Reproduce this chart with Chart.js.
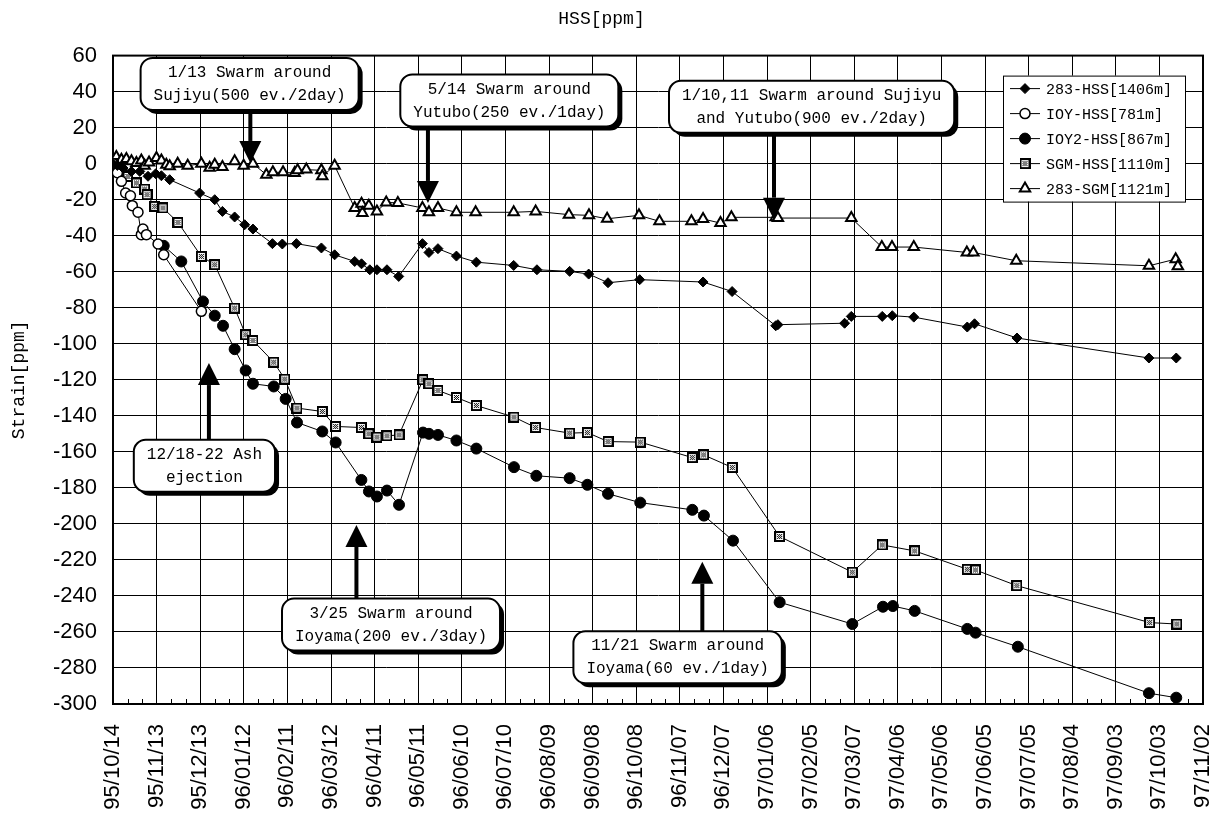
<!DOCTYPE html>
<html>
<head>
<meta charset="utf-8">
<title>HSS[ppm]</title>
<script src="https://cdn.jsdelivr.net/npm/chart.js@4.4.1/dist/chart.umd.min.js"></script>
<style>
	html, body { margin: 0; padding: 0; background: #fff; }
	#wrap { width: 1229px; height: 827px; }
</style>
</head>
<body>
<div id="wrap"><canvas id="strainChart" width="1229" height="827"></canvas></div>
<script>
// x values are days counted from 95/10/14, one date label every 30 days
var tickLabels = ["95/10/14", "95/11/13", "95/12/13", "96/01/12", "96/02/11", "96/03/12",
	"96/04/11", "96/05/11", "96/06/10", "96/07/10", "96/08/09", "96/09/08", "96/10/08",
	"96/11/07", "96/12/07", "97/01/06", "97/02/05", "97/03/07", "97/04/06", "97/05/06",
	"97/06/05", "97/07/05", "97/08/04", "97/09/03", "97/10/03", "97/11/02"];

var seriesNames = ["283-HSS[1406m]", "IOY-HSS[781m]", "IOY2-HSS[867m]", "SGM-HSS[1110m]", "283-SGM[1121m]"];

var hss283Days = [0, 3, 6.9, 12.7, 18.4, 24.1, 29.4, 33.3, 39, 59.6, 70, 75.3, 83.7, 90.6, 96.3,
	109.7, 116.5, 126.2, 143.4, 152.5, 166.3, 171, 176.7, 181.6, 188.5, 196.6, 212.9, 217.4, 223.6,
	236.3, 250, 275.7, 291.7, 314.2, 327.3, 340.6, 362.4, 406, 426, 456, 457.5, 503.4, 508, 529.3,
	536.2, 551, 587.8, 592.8, 622, 712.8, 731.6];
var hss283Vals = [0, -1, -2.4, -4.3, -4.3, -7, -5.6, -6.7, -8.9, -16.3, -20, -26.5, -29.6, -33.9, -36.3,
	-44.4, -44.6, -44.4, -46.8, -50.6, -54.3, -55.6, -58.9, -58.9, -58.9, -62.6, -44.4, -49.3, -47.2,
	-51.3, -54.7, -56.5, -58.9, -59.8, -61.3, -66.1, -64.4, -65.7, -71, -90, -89.4, -88.6, -84.8, -84.8,
	-84.4, -85.2, -90.7, -88.9, -96.8, -107.9, -107.9];

var ioyDays = [0, 3, 5.8, 8.7, 12, 13.3, 17.2, 19.5, 20.6, 23, 31, 34.9, 60.8];
var ioyVals = [0, -5, -9.8, -16.3, -17.8, -23.3, -27, -39.4, -36.3, -39.4, -44.6, -50.6, -82];

var ioy2Days = [34.9, 47, 61.9, 70, 75.7, 83.7, 91.3, 96.3, 110.6, 118.8, 126.6, 144, 153.2, 170.9,
	176.1, 181.6, 188.5, 196.8, 213.3, 217.4, 223.6, 236.3, 250, 275.9, 291.3, 314.2, 326.4, 340.6,
	362.8, 398.6, 406.6, 426.6, 458.7, 508.7, 529.8, 536.6, 551.6, 587.8, 593.5, 622.6, 712.8, 731.6];
var ioy2Vals = [-45.6, -54.3, -76.5, -84.4, -90, -103, -114.8, -122.2, -123.7, -130.6, -143.7, -148.7,
	-154.8, -175.6, -182, -184.8, -181.5, -189.4, -149.3, -150, -150.6, -153.7, -158.2, -168.5, -173.3,
	-174.6, -178.3, -183.3, -188.2, -192.2, -195.4, -209.3, -243.5, -255.6, -246, -245.6, -248.3,
	-258.3, -260.4, -268.2, -294, -296.5];

var sgmDays = [0, 2.5, 6, 10.3, 16.1, 21.8, 23.4, 28.7, 34.4, 44.7, 60.8, 70, 83.7, 91.3, 96.3, 110.6,
	118.2, 126.6, 144, 153.2, 170.9, 176.1, 181.6, 188.5, 196.8, 213.3, 217.4, 223.6, 236.3, 250, 275.9,
	290.8, 314.2, 326.4, 340.6, 362.8, 398.6, 406.4, 426.1, 458.7, 508.7, 529.3, 551.6, 587.8, 593.5,
	621.9, 713.3, 732];
var sgmVals = [0, -3, -4.5, -7.1, -10.7, -14.1, -17.2, -23.7, -24.6, -32.6, -51.5, -56.1, -80.2, -95,
	-98.2, -110.2, -119.6, -135.7, -137.6, -145.9, -146.5, -150, -151.8, -151.1, -150.6, -120, -122.2,
	-125.9, -129.8, -134.3, -140.7, -146.5, -149.6, -149.3, -154.3, -154.6, -163.2, -161.7, -168.7,
	-207, -226.8, -211.7, -215, -225.2, -225.6, -234.3, -254.8, -255.6];

var sgm283Days = [0, 2.3, 5.8, 9.2, 12.7, 16.1, 19.5, 21.8, 24.8, 29.9, 33.3, 36.7, 39, 44.5, 51.4,
	60.8, 66.5, 70, 75.3, 83.7, 89.9, 96.3, 105.5, 110, 117, 125, 127, 133, 143.4, 144, 152.5, 166.3,
	171, 171.6, 176, 181.6, 188, 196, 212.9, 217.4, 223.6, 236.3, 249.5, 275.7, 290.8, 313.7, 327.5,
	340, 361.9, 376, 398, 406, 418, 425.5, 456, 457.5, 508, 529, 536, 551, 587.5, 592, 621.5, 712.8,
	731.2, 732.7];
var sgm283Vals = [0, 3.7, 2.2, 2.6, 1.3, 0.4, 1.8, -1.1, 0.7, 3.1, 1.8, -0.6, -1.5, 0, -1.1, 0, -2.2,
	-0.6, -1.8, 1.3, -1.1, 0, -6.1, -4.8, -4.8, -5.2, -3.7, -3.3, -3.7, -7, -1.1, -24.6, -22.2, -27.4,
	-23.3, -26.5, -21.5, -21.8, -24.6, -27, -24.6, -27, -27, -27, -26.5, -28.3, -28.7, -30.6, -28.7,
	-32, -32, -30.7, -33, -29.8, -29.8, -30.2, -30.2, -46.3, -46.3, -46.3, -49.3, -49.3, -53.9, -56.7,
	-53, -57];

// callouts: box centre (day, value), arrow drawn at arrowDay towards arrowTip
var notes = [
	{ lines: ["1/13 Swarm around", "Sujiyu(500 ev./2day)"], day: 94, value: 44.3, arrowDay: 94.5, arrowTip: 0.4 },
	{ lines: ["5/14 Swarm around", "Yutubo(250 ev./1day)"], day: 272.7, value: 35.1, arrowDay: 216.7, arrowTip: -21.8 },
	{ lines: ["1/10,11 Swarm around Sujiyu", "and Yutubo(900 ev./2day)"], day: 480.7, value: 31.6, arrowDay: 454.8, arrowTip: -31.1 },
	{ lines: ["12/18-22 Ash", "ejection"], day: 62.9, value: -167.7, arrowDay: 66, arrowTip: -110.7 },
	{ lines: ["3/25 Swarm around", "Ioyama(200 ev./3day)"], day: 191.3, value: -255.9, arrowDay: 167.5, arrowTip: -200.6 },
	{ lines: ["11/21 Swarm around", "Ioyama(60 ev./1day)"], day: 388.5, value: -274, arrowDay: 405.5, arrowTip: -221 }
];

function pairs(days, vals) {
	var out = [];
	for (var i = 0; i < days.length; i++) {
		out.push({ x: days[i], y: vals[i] });
	}
	return out;
}

// black square with a grey checker inside, like the scanned SGM marker
function boxMarker() {
	var c = document.createElement("canvas");
	c.width = 11;
	c.height = 11;
	var g = c.getContext("2d");
	g.fillStyle = "#000";
	g.fillRect(0, 0, 11, 11);
	g.fillStyle = "#fff";
	g.fillRect(2, 2, 7, 7);
	g.fillStyle = "#000";
	for (var i = 3; i < 8; i++) {
		for (var j = 3; j < 8; j++) {
			if ((i + j) % 2 === 0) g.fillRect(i, j, 1, 1);
		}
	}
	return c;
}

var monoFont = '"Liberation Mono", "DejaVu Sans Mono", monospace';
var sansFont = '"Liberation Sans", Arial, sans-serif';

function makeSet(label, data, style, radius, fillColor, borderW) {
	return {
		label: label,
		data: data,
		borderColor: "#000",
		borderWidth: 1,
		pointStyle: style,
		pointRadius: radius,
		pointHoverRadius: radius,
		pointBackgroundColor: fillColor,
		pointBorderColor: "#000",
		pointBorderWidth: borderW,
		fill: false,
		tension: 0
	};
}

var datasets = [
	makeSet(seriesNames[0], pairs(hss283Days, hss283Vals), "rectRot", 5, "#000", 1),
	makeSet(seriesNames[1], pairs(ioyDays, ioyVals), "circle", 5, "#fff", 1.5),
	makeSet(seriesNames[2], pairs(ioy2Days, ioy2Vals), "circle", 5.5, "#000", 1),
	makeSet(seriesNames[3], pairs(sgmDays, sgmVals), boxMarker(), 5, "#000", 1),
	makeSet(seriesNames[4], pairs(sgm283Days, sgm283Vals), "triangle", 6, "#fff", 2)
];

function roundRect(ctx, x, y, w, h, r) {
	ctx.beginPath();
	ctx.moveTo(x + r, y);
	ctx.arcTo(x + w, y, x + w, y + h, r);
	ctx.arcTo(x + w, y + h, x, y + h, r);
	ctx.arcTo(x, y + h, x, y, r);
	ctx.arcTo(x, y, x + w, y, r);
	ctx.closePath();
}

function drawMarker(ctx, ds, x, y) {
	ctx.fillStyle = ds.pointBackgroundColor;
	ctx.strokeStyle = "#000";
	ctx.lineWidth = ds.pointBorderWidth;
	if (window.Chart && Chart.helpers && Chart.helpers.drawPoint) {
		Chart.helpers.drawPoint(ctx, { pointStyle: ds.pointStyle, radius: ds.pointRadius, rotation: 0, borderWidth: ds.pointBorderWidth }, x, y);
	} else {
		ctx.beginPath();
		ctx.arc(x, y, ds.pointRadius, 0, Math.PI * 2);
		ctx.fill();
		ctx.stroke();
	}
}

var overlay = {
	id: "overlay",
	beforeDatasetsDraw: function (chart) {
		var ctx = chart.ctx;
		var a = chart.chartArea;
		var xs = chart.scales.x;
		ctx.save();
		ctx.strokeStyle = "#000";
		ctx.lineWidth = 2;
		ctx.strokeRect(a.left, a.top, a.right - a.left, a.bottom - a.top);
		// small ticks every 10 days along the bottom
		ctx.lineWidth = 1;
		ctx.beginPath();
		for (var d = 10; d < 750; d += 10) {
			if (d % 30 === 0) continue;
			var px = Math.round(xs.getPixelForValue(d)) + 0.5;
			ctx.moveTo(px, a.bottom);
			ctx.lineTo(px, a.bottom - 5);
		}
		ctx.stroke();
		ctx.restore();
	},
	afterDatasetsDraw: function (chart) {
		var ctx = chart.ctx;
		var a = chart.chartArea;
		var xs = chart.scales.x;
		var ys = chart.scales.y;
		ctx.save();

		// callout boxes with arrows
		ctx.font = "16px " + monoFont;
		notes.forEach(function (n) {
			var cx = xs.getPixelForValue(n.day);
			var cy = ys.getPixelForValue(n.value);
			var w = 0;
			n.lines.forEach(function (t) { w = Math.max(w, ctx.measureText(t).width); });
			w += 26;
			var h = 52;
			var x0 = cx - w / 2;
			var y0 = cy - h / 2;
			var ax = xs.getPixelForValue(n.arrowDay);
			var tip = ys.getPixelForValue(n.arrowTip);
			var start = tip > cy ? y0 + h : y0;
			var dir = tip > start ? 1 : -1;
			var headLen = 22;
			ctx.strokeStyle = "#000";
			ctx.fillStyle = "#000";
			ctx.lineWidth = 4;
			ctx.beginPath();
			ctx.moveTo(ax, start);
			ctx.lineTo(ax, tip - dir * headLen);
			ctx.stroke();
			ctx.beginPath();
			ctx.moveTo(ax, tip);
			ctx.lineTo(ax - 11, tip - dir * headLen);
			ctx.lineTo(ax + 11, tip - dir * headLen);
			ctx.closePath();
			ctx.fill();

			roundRect(ctx, x0 + 4, y0 + 4, w, h, 12);
			ctx.fill();
			roundRect(ctx, x0, y0, w, h, 12);
			ctx.fillStyle = "#fff";
			ctx.fill();
			ctx.lineWidth = 2;
			ctx.stroke();
			ctx.fillStyle = "#000";
			ctx.textAlign = "center";
			ctx.textBaseline = "middle";
			ctx.fillText(n.lines[0], cx, cy - 11);
			ctx.fillText(n.lines[1], cx, cy + 12);
		});

		// legend box
		var lw = 182, lh = 126;
		var lx = a.right - 200;
		var ly = a.top + 20;
		ctx.fillStyle = "#fff";
		ctx.fillRect(lx, ly, lw, lh);
		ctx.strokeStyle = "#000";
		ctx.lineWidth = 1;
		ctx.strokeRect(lx + 0.5, ly + 0.5, lw, lh);
		ctx.font = "15px " + monoFont;
		ctx.textAlign = "left";
		ctx.textBaseline = "middle";
		chart.data.datasets.forEach(function (ds, i) {
			var ry = ly + 13 + i * 25;
			ctx.strokeStyle = "#000";
			ctx.lineWidth = 1;
			ctx.beginPath();
			ctx.moveTo(lx + 7, ry);
			ctx.lineTo(lx + 37, ry);
			ctx.stroke();
			drawMarker(ctx, ds, lx + 22, ry);
			ctx.fillStyle = "#000";
			ctx.fillText(ds.label, lx + 43, ry + 1);
		});
		ctx.restore();
	}
};

var ctx = document.getElementById("strainChart").getContext("2d");
var strainChart = new Chart(ctx, {
	type: "line",
	data: { datasets: datasets },
	options: {
		responsive: false,
		animation: false,
		events: [],
		layout: { padding: { left: 0, right: 26, top: 0, bottom: 0 } },
		plugins: {
			legend: { display: false },
			tooltip: { enabled: false },
			title: {
				display: true,
				text: "HSS[ppm]",
				color: "#000",
				font: { family: monoFont, size: 18, weight: "normal" },
				padding: { top: 8, bottom: 26 }
			}
		},
		scales: {
			x: {
				type: "linear",
				min: 0,
				max: 750,
				afterFit: function (scale) {
					scale.height = 123;
					scale.paddingRight = 0;
					scale.paddingLeft = 0;
				},
				grid: { color: "#000", lineWidth: 1, drawTicks: false },
				border: { color: "#000", width: 2 },
				ticks: {
					stepSize: 30,
					maxTicksLimit: 40,
					autoSkip: false,
					minRotation: 90,
					maxRotation: 90,
					padding: 20,
					color: "#000",
					font: { family: sansFont, size: 22 },
					callback: function (value) {
						var i = Math.round(value / 30);
						return Math.abs(value - i * 30) < 0.01 ? tickLabels[i] : "";
					}
				}
			},
			y: {
				min: -300,
				max: 60,
				afterFit: function (scale) { scale.width = 113; },
				grid: { color: "#000", lineWidth: 1, drawTicks: false },
				border: { color: "#000", width: 2 },
				title: {
					display: true,
					text: "Strain[ppm]",
					color: "#000",
					font: { family: monoFont, size: 18 },
					padding: { top: 8, bottom: 0 }
				},
				ticks: {
					stepSize: 20,
					maxTicksLimit: 40,
					padding: 16,
					color: "#000",
					font: { family: sansFont, size: 22 }
				}
			}
		}
	},
	plugins: [overlay]
});
</script>
</body>
</html>
